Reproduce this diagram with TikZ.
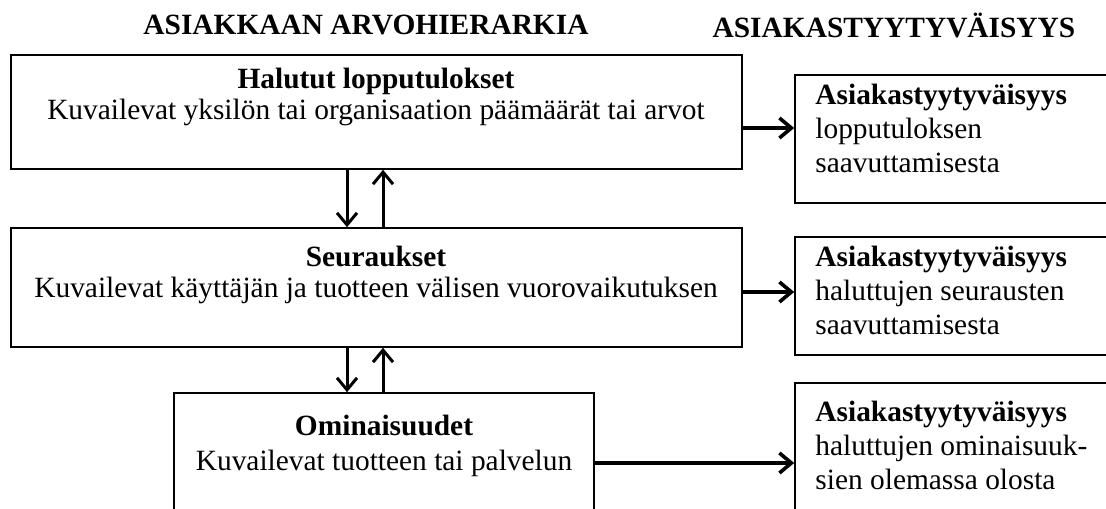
\documentclass[tikz,border=0pt]{standalone}
\usepackage{fontspec}
\setmainfont{Liberation Serif}
\usetikzlibrary{arrows.meta,fit}
\begin{document}
\begin{tikzpicture}[x=0.5pt,y=-0.5pt,
  every node/.style={font=\fontsize{14.7}{15.5}\selectfont, inner sep=0pt},
  box/.style={draw, line width=0.8pt, inner sep=0pt},
  side/.style={align=left, anchor=west, font=\fontsize{14.7}{17}\selectfont},
  arr/.style={line width=1.8pt, -{Straight Barb[length=6pt,width=10pt]}},
  varr/.style={line width=1.5pt, -{Straight Barb[length=6pt,width=10pt]}},
  title/.style={font=\fontsize{14.7}{15.5}\selectfont\bfseries}]
\clip (0,0) rectangle (1106,508);
% column headings
\node[title] (head left) at (366,25) {ASIAKKAAN ARVOHIERARKIA};
\node[title] (head right) at (894,25) {ASIAKASTYYTYVÄISYYS};
% hierarchy boxes
\node[box, fit={(11,55) (742,169)}] (top) {};
\node[box, fit={(11,228) (742,347)}] (mid) {};
\node[box, fit={(174,393) (594,540)}] (bot) {};
\node[align=center] (top text) at (376,97)
  {\textbf{Halutut lopputulokset}\\Kuvailevat yksilön tai organisaation päämäärät tai arvot};
\node[align=center] (mid text) at (376,275)
  {\textbf{Seuraukset}\\Kuvailevat käyttäjän ja tuotteen välisen vuorovaikutuksen};
\node[align=center] (bot text) at (384,446)
  {\textbf{Ominaisuudet}\\[2pt]Kuvailevat tuotteen tai palvelun};
% satisfaction boxes
\node[box, fit={(795,75) (1130,203)}] (r1) {};
\node[box, fit={(795,237) (1130,355)}] (r2) {};
\node[box, fit={(795,383) (1130,540)}] (r3) {};
\node[side] (r1 text) at (815,128)
  {\textbf{Asiakastyytyväisyys}\\lopputuloksen\\saavuttamisesta};
\node[side] (r2 text) at (815,290)
  {\textbf{Asiakastyytyväisyys}\\haluttujen seurausten\\saavuttamisesta};
\node[side] (r3 text) at (815,445)
  {\textbf{Asiakastyytyväisyys}\\haluttujen ominaisuuk-\\sien olemassa olosta};
% links between levels
\draw[varr] (top.south -| 347,0) -- (mid.north -| 347,0);
\draw[varr] (mid.north -| 383,0) -- (top.south -| 383,0);
\draw[varr] (mid.south -| 347,0) -- (bot.north -| 347,0);
\draw[varr] (bot.north -| 383,0) -- (mid.south -| 383,0);
% links to satisfaction
\draw[arr] (top.east |- 0,128) -- (r1.west |- 0,128);
\draw[arr] (mid.east |- 0,292) -- (r2.west |- 0,292);
\draw[arr] (bot.east |- 0,463) -- (r3.west |- 0,463);
\end{tikzpicture}
\end{document}
